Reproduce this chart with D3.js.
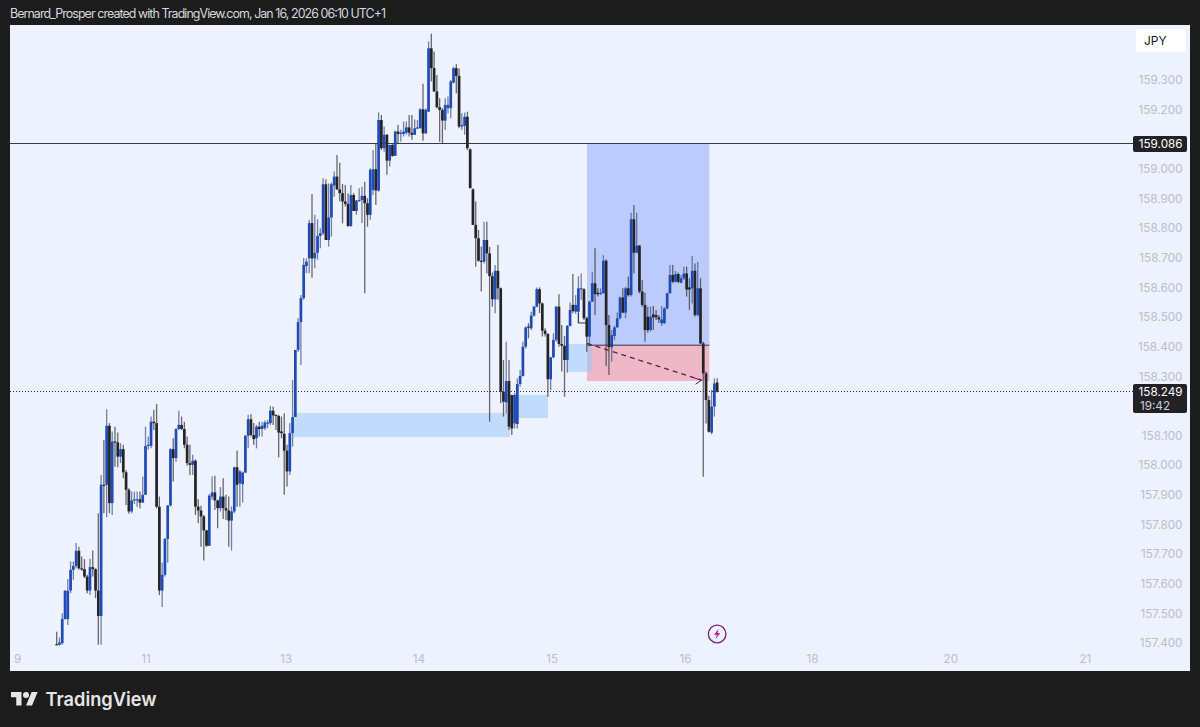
<!DOCTYPE html>
<html><head><meta charset="utf-8">
<script src="https://cdn.jsdelivr.net/npm/d3@7/dist/d3.min.js"></script>
<style>html,body{margin:0;padding:0;background:#1c1c1c}svg{display:block}text{font-family:Inter,Roboto,sans-serif}</style>
</head><body><svg id="c" width="1200" height="727"></svg>
<script>
const opens=[157.396,157.394,157.399,157.481,157.481,157.577,157.647,157.660,157.711,157.652,157.649,157.624,157.577,157.656,157.649,157.577,157.491,157.934,157.934,158.133,157.872,158.080,158.077,158.029,158.054,157.976,157.917,157.844,157.881,157.883,157.885,157.874,157.900,158.065,158.065,158.147,158.142,157.860,157.577,157.630,157.751,157.864,158.054,158.024,158.122,158.136,158.122,158.069,158.007,158.001,158.015,157.860,157.847,157.827,157.780,157.728,157.894,157.908,157.881,157.855,157.894,157.855,157.847,157.813,157.844,157.993,157.939,157.936,157.975,158.099,158.155,158.102,158.091,158.130,158.122,158.125,158.140,158.142,158.184,158.170,158.166,158.114,158.106,158.049,157.979,158.108,158.163,158.389,158.483,158.564,158.672,158.698,158.817,158.698,158.717,158.774,158.783,158.948,158.760,158.836,158.944,158.974,158.931,158.918,158.890,158.882,158.807,158.912,158.858,158.893,158.895,158.909,158.884,158.845,158.929,158.999,158.927,159.165,159.070,159.115,159.028,159.081,159.044,159.126,159.118,159.118,159.122,159.140,159.122,159.115,159.137,159.137,159.201,159.120,159.193,159.407,159.340,159.261,159.208,159.199,159.163,159.205,159.205,159.291,159.340,159.314,159.143,159.145,159.176,159.066,158.931,158.811,158.766,158.690,158.687,158.760,158.715,158.638,158.560,158.656,158.597,158.248,158.212,158.284,158.237,158.141,158.139,158.274,158.301,158.400,158.468,158.462,158.505,158.535,158.594,158.546,158.454,158.443,158.290,158.364,158.423,158.535,158.409,158.403,158.355,158.470,158.541,158.518,158.518,158.594,158.594,158.496,158.434,158.552,158.614,158.582,158.580,158.580,158.690,158.473,158.398,158.436,158.465,158.496,158.566,158.515,158.597,158.574,158.830,158.717,158.741,158.586,158.541,158.501,158.456,158.509,158.507,158.499,158.479,158.479,158.529,158.580,158.642,158.619,158.645,158.616,158.631,158.647,158.600,158.597,158.656,158.507,158.597,158.411,158.310,158.220,158.110,158.198,158.279];
const highs=[157.438,157.419,157.500,157.579,157.616,157.675,157.675,157.737,157.725,157.692,157.683,157.630,157.684,157.712,157.652,157.838,157.967,158.085,158.189,158.142,158.114,158.130,158.110,158.074,158.069,157.984,157.922,157.911,157.911,157.911,157.911,157.962,158.130,158.097,158.164,158.187,158.207,157.894,157.672,157.754,157.866,158.057,158.091,158.125,158.184,158.164,158.147,158.097,158.069,158.035,158.020,157.885,157.863,157.832,157.782,157.903,157.962,157.964,157.883,157.926,157.956,157.900,157.894,157.861,157.995,158.049,157.984,157.979,158.102,158.170,158.172,158.142,158.136,158.147,158.147,158.151,158.153,158.200,158.198,158.170,158.170,158.164,158.175,158.069,158.142,158.288,158.389,158.497,158.574,158.699,158.698,158.828,158.915,158.845,158.830,158.800,158.968,158.965,158.951,158.954,158.991,159.047,159.021,158.949,158.946,158.918,158.946,158.918,158.895,158.935,158.940,158.957,158.901,159.002,159.064,159.086,159.191,159.182,159.143,159.118,159.081,159.086,159.129,159.148,159.132,159.160,159.160,159.182,159.182,159.167,159.165,159.205,159.287,159.205,159.430,159.456,159.396,159.317,159.238,159.205,159.238,159.244,159.300,159.345,159.353,159.340,159.188,159.190,159.193,159.070,158.935,158.890,158.794,158.738,158.822,158.822,158.737,158.650,158.676,158.743,158.600,158.355,158.417,158.355,158.237,158.245,158.293,158.321,158.417,158.468,158.479,158.518,158.537,158.600,158.600,158.549,158.462,158.445,158.366,158.445,158.537,158.577,158.473,158.436,158.473,158.549,158.645,158.574,158.638,158.647,158.597,158.501,158.555,158.653,158.732,158.597,158.597,158.709,158.695,158.507,158.456,158.470,158.515,158.569,158.597,158.602,158.636,158.852,158.878,158.852,158.743,158.625,158.582,158.535,158.535,158.537,158.524,158.507,158.537,158.533,158.582,158.676,158.676,158.656,158.650,158.642,158.670,158.670,158.631,158.706,158.681,158.687,158.631,158.417,158.316,158.234,158.254,158.293,158.293];
const lows=[157.393,157.391,157.394,157.478,157.461,157.568,157.613,157.652,157.647,157.644,157.619,157.568,157.562,157.624,157.551,157.394,157.394,157.838,157.824,157.838,157.832,157.995,157.993,158.007,157.956,157.866,157.836,157.838,157.869,157.860,157.855,157.872,157.900,158.052,158.057,158.119,157.855,157.562,157.521,157.624,157.672,157.860,157.945,158.012,158.119,158.119,158.057,157.998,157.967,157.967,157.832,157.804,157.725,157.678,157.725,157.728,157.883,157.849,157.787,157.844,157.818,157.815,157.725,157.712,157.838,157.860,157.860,157.874,157.973,158.057,158.097,158.069,158.057,158.097,158.097,158.119,158.125,158.136,158.136,158.119,158.027,158.091,157.900,157.928,157.967,158.063,158.163,158.382,158.338,158.558,158.648,158.648,158.633,158.665,158.693,158.732,158.777,158.760,158.738,158.771,158.906,158.929,158.890,158.816,158.873,158.805,158.805,158.858,158.845,158.890,158.817,158.580,158.805,158.828,158.912,158.878,158.923,159.064,159.058,158.980,159.008,159.041,159.044,159.086,159.092,159.109,159.115,159.109,159.098,159.115,159.134,159.137,159.095,159.118,159.193,159.295,159.261,159.205,159.092,159.086,159.131,159.188,159.171,159.289,159.255,159.137,159.131,159.115,159.064,158.935,158.811,158.670,158.687,158.586,158.681,158.647,158.147,158.535,158.513,158.558,158.209,158.164,158.175,158.119,158.102,158.124,158.124,158.265,158.299,158.394,158.428,158.456,158.501,158.533,158.513,158.434,158.434,158.231,158.254,158.361,158.417,158.400,158.316,158.231,158.312,158.468,158.513,158.510,158.479,158.558,158.490,158.383,158.402,158.552,158.507,158.569,158.574,158.580,158.335,158.304,158.349,158.423,158.465,158.492,158.513,158.496,158.569,158.569,158.647,158.715,158.580,158.535,158.417,158.447,158.451,158.456,158.490,158.481,158.470,158.477,158.526,158.580,158.614,158.616,158.614,158.614,158.625,158.569,158.524,158.546,158.501,158.501,158.409,157.961,158.141,158.110,158.104,158.164,158.245];
const closes=[157.394,157.402,157.481,157.576,157.576,157.647,157.660,157.711,157.652,157.649,157.624,157.577,157.656,157.649,157.577,157.491,157.934,157.930,158.133,157.872,158.080,158.077,158.029,158.054,157.976,157.917,157.844,157.881,157.885,157.885,157.874,157.900,158.065,158.069,158.147,158.142,157.860,157.577,157.630,157.751,157.864,158.054,158.024,158.122,158.136,158.122,158.069,158.007,158.001,158.015,157.860,157.847,157.827,157.780,157.728,157.897,157.908,157.881,157.855,157.894,157.855,157.847,157.813,157.844,157.993,157.934,157.979,157.975,158.099,158.155,158.102,158.088,158.130,158.122,158.133,158.144,158.144,158.184,158.168,158.166,158.110,158.108,158.049,157.979,158.108,158.162,158.389,158.483,158.564,158.676,158.687,158.817,158.698,158.717,158.774,158.783,158.948,158.760,158.836,158.948,158.974,158.931,158.918,158.890,158.882,158.807,158.912,158.858,158.893,158.895,158.909,158.884,158.845,158.997,158.999,158.927,159.165,159.070,159.115,159.028,159.081,159.044,159.126,159.118,159.122,159.126,159.140,159.122,159.115,159.137,159.140,159.201,159.120,159.199,159.407,159.340,159.261,159.208,159.199,159.163,159.216,159.216,159.295,159.340,159.314,159.143,159.148,159.176,159.070,158.935,158.811,158.766,158.690,158.687,158.760,158.715,158.638,158.560,158.656,158.597,158.248,158.214,158.284,158.130,158.124,158.237,158.274,158.301,158.400,158.465,158.465,158.505,158.535,158.594,158.546,158.454,158.443,158.290,158.364,158.423,158.535,158.409,158.403,158.355,158.470,158.524,158.520,158.541,158.597,158.597,158.496,158.434,158.552,158.614,158.577,158.577,158.582,158.690,158.473,158.398,158.439,158.465,158.496,158.566,158.515,158.597,158.574,158.830,158.717,158.741,158.586,158.541,158.456,158.456,158.501,158.499,158.499,158.492,158.492,158.529,158.580,158.642,158.619,158.645,158.619,158.631,158.647,158.593,158.593,158.656,158.507,158.597,158.411,158.310,158.220,158.113,158.198,158.276,158.248];
const yTicks=["159.300","159.200","159.000","158.900","158.800","158.700","158.600","158.500","158.400","158.300","158.100","158.000","157.900","157.800","157.700","157.600","157.500","157.400"];
const xTickBars=[-14.3,32,82.4,130.3,178.4,226.4,272.2,322,370.5];
const xTickLabels=["9","11","13","14","15","16","18","20","21"];
const refLevel=159.086, lastPrice=158.249, countdown="19:42", currency="JPY";
const longZone={from:191.1,to:235.2,top:159.086,entry:158.405,stop:158.284};
const fvgZones=[{from:85.2,to:163.3,top:158.176,bottom:158.095},{from:163.3,to:177,top:158.237,bottom:158.159},{from:183.9,to:193,top:158.409,bottom:158.315}];
const tradePath=[{bar:191.1,price:158.411},{bar:232.4,price:158.287}];
const stepLine=[{bar:188,price:158.514},{bar:188,price:158.48},{bar:191,price:158.48}];
const headerText="Bernard_Prosper created with TradingView.com, Jan 16, 2026 06:10 UTC+1";

const L=10,R=1190,T=25,B=671;
const x=d3.scaleLinear().domain([0,100]).range([56.7,334.2]);
const y=d3.scaleLinear().domain([159.3,158.3]).range([80,376.3]);
const svg=d3.select("#c");
svg.append("rect").attr("width",1200).attr("height",727).attr("fill","#1c1c1c");
svg.append("text").attr("x",10).attr("y",18).attr("font-size",12.4).attr("font-family","Roboto,sans-serif").attr("fill","#d6d8de").attr("textLength",376).attr("lengthAdjust","spacing").text(headerText);
svg.append("rect").attr("x",L).attr("y",T).attr("width",R-L).attr("height",B-T).attr("fill","#eef1fe");
svg.append("defs").append("clipPath").attr("id","pane").append("rect").attr("x",L).attr("y",T).attr("width",R-L).attr("height",B-T-25);

// zones
const z=svg.append("g");
z.append("rect").attr("x",x(longZone.from)).attr("width",x(longZone.to)-x(longZone.from)).attr("y",y(longZone.top)).attr("height",y(longZone.entry)-y(longZone.top)).attr("fill","#bccbfb");
z.append("rect").attr("x",x(longZone.from)).attr("width",x(longZone.to)-x(longZone.from)).attr("y",y(longZone.entry)).attr("height",y(longZone.stop)-y(longZone.entry)).attr("fill","#efb8c8");
z.selectAll("rect.fvg").data(fvgZones).join("rect").attr("class","fvg")
 .attr("x",d=>x(d.from)).attr("width",d=>x(d.to)-x(d.from)).attr("y",d=>y(d.top)).attr("height",d=>y(d.bottom)-y(d.top)).attr("fill","#91c6f7").attr("fill-opacity",.5);

// level lines
svg.append("line").attr("x1",L).attr("x2",1133).attr("y1",Math.round(y(refLevel))+.5).attr("y2",Math.round(y(refLevel))+.5).attr("stroke","#3a3a3e").attr("stroke-width",1);
svg.append("line").attr("x1",L).attr("x2",1133).attr("y1",Math.round(y(lastPrice))+.5).attr("y2",Math.round(y(lastPrice))+.5).attr("stroke","#2c2c30").attr("stroke-dasharray","1 2");

// candles
const bars=d3.range(opens.length).map(i=>({i,o:opens[i],h:highs[i],l:lows[i],c:closes[i]}));
const g=svg.append("g").attr("clip-path","url(#pane)");
const up="#1e4bb5",dn="#242428";
g.selectAll("line.w").data(bars).join("line").attr("class","w")
 .attr("x1",d=>x(d.i)).attr("x2",d=>x(d.i)).attr("y1",d=>y(d.h)).attr("y2",d=>y(d.l))
 .attr("stroke",d=>d.c>=d.o?"#46598f":"#3a3a3e").attr("stroke-width",1.3).attr("stroke-opacity",.75);
g.selectAll("rect.b").data(bars).join("rect").attr("class","b")
 .attr("x",d=>x(d.i)-1.35).attr("width",2.7)
 .attr("y",d=>y(Math.max(d.o,d.c))).attr("height",d=>Math.max(1.2,Math.abs(y(d.o)-y(d.c))))
 .attr("fill",d=>d.c>=d.o?up:dn);

// entry line, step and trade arrow on top
svg.append("line").attr("x1",x(longZone.from)).attr("x2",x(longZone.to)).attr("y1",y(longZone.entry)).attr("y2",y(longZone.entry)).attr("stroke","#333338").attr("stroke-width",1);
const ln=d3.line().x(d=>x(d.bar)).y(d=>y(d.price));
svg.append("path").attr("d",ln(stepLine)).attr("fill","none").attr("stroke","#333338");
svg.append("path").attr("d",ln(tradePath)).attr("fill","none").attr("stroke","#5a2338").attr("stroke-width",1.2).attr("stroke-dasharray","5 4");
const tip=tradePath[1];
svg.append("path").attr("d",`M${x(tip.bar)-6},${y(tip.price)+4}L${x(tip.bar)},${y(tip.price)}L${x(tip.bar)-7},${y(tip.price)-2}`).attr("fill","none").attr("stroke","#5a2338");

// axes
const gy=svg.append("g").attr("transform","translate(1182.5,0)")
 .call(d3.axisRight(y).tickValues(yTicks.map(Number)).tickFormat(d3.format(".3f")).tickSize(0).tickPadding(0));
gy.select(".domain").remove();
gy.selectAll("text").attr("text-anchor","end").attr("font-size",11.7).attr("fill","#bbbec9").attr("font-family","Inter,Roboto,sans-serif");
const gx=svg.append("g").attr("transform","translate(0,655)")
 .call(d3.axisBottom(x).tickValues(xTickBars).tickFormat((d,i)=>xTickLabels[i]).tickSize(0).tickPadding(0));
gx.select(".domain").remove();
gx.selectAll("text").attr("font-size",11.7).attr("fill","#bbbec9").attr("font-family","Inter,Roboto,sans-serif");

// currency
svg.append("rect").attr("x",1136).attr("y",29).attr("width",50).attr("height",23).attr("rx",3).attr("fill","#fff");
svg.append("text").attr("x",1144).attr("y",45).attr("font-size",12).attr("fill","#131722").text(currency);

// price labels
svg.append("rect").attr("x",1133).attr("y",136).attr("width",54).attr("height",16).attr("rx",2).attr("fill","#222226");
svg.append("text").attr("x",1182.5).attr("y",148.3).attr("text-anchor","end").attr("font-size",11.7).attr("fill","#fff").text(refLevel.toFixed(3));
svg.append("rect").attr("x",1133).attr("y",384).attr("width",54).attr("height",29).attr("rx",2).attr("fill","#222226");
svg.append("text").attr("x",1182.5).attr("y",396).attr("text-anchor","end").attr("font-size",11.7).attr("fill","#fff").text(lastPrice.toFixed(3));
svg.append("text").attr("x",1140).attr("y",410).attr("font-size",11.7).attr("fill","#d0d0d4").text(countdown);

// event marker
const m=svg.append("g").attr("transform",`translate(${x(238)},634)`);
m.append("circle").attr("r",8.8).attr("fill","none").attr("stroke","#7d1f80").attr("stroke-width",1.3);
m.append("path").attr("d","M1.6,-5.2L-3.2,0.8L-0.3,0.8L-1.6,5.2L3.2,-0.9L0.3,-0.9Z").attr("fill","#a8269c");

// logo
const lg=svg.append("g").attr("transform","translate(11,689) scale(.75)").attr("fill","#e6e6e6");
lg.append("path").attr("d","M14 22H7V11H0V4h14v18zM28 22h-8l7.5-18h8L28 22z");
lg.append("circle").attr("cx",20).attr("cy",8).attr("r",4);
svg.append("text").attr("x",45.5).attr("y",706).attr("font-size",19).attr("font-weight",600).attr("fill","#e6e6e6").attr("textLength",111).attr("lengthAdjust","spacingAndGlyphs").text("TradingView");
</script></body></html>
